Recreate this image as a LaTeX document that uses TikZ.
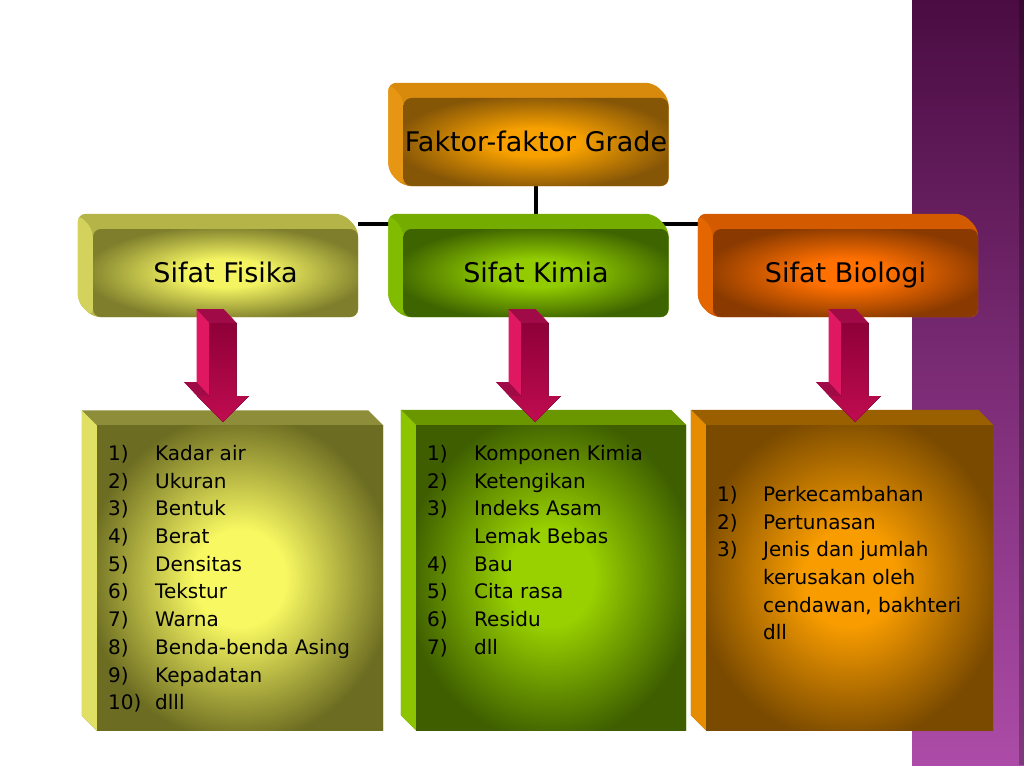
\documentclass[tikz,border=0pt]{standalone}
\usepackage{fontspec}
\setmainfont{DejaVu Sans}
\usetikzlibrary{backgrounds}

\definecolor{stripTop}{HTML}{4A0C42}
\definecolor{stripMid}{HTML}{702668}
\definecolor{stripBottom}{HTML}{AC4CA8}
\definecolor{topIn}{HTML}{F7A000}
\definecolor{topOut}{HTML}{865607}
\definecolor{topBevTop}{HTML}{D88A0C}
\definecolor{topBevLeft}{HTML}{E69612}
\definecolor{fisIn}{HTML}{F4F462}
\definecolor{fisOut}{HTML}{7E7E2C}
\definecolor{fisBevTop}{HTML}{B4B448}
\definecolor{fisBevLeft}{HTML}{D2D25C}
\definecolor{kimIn}{HTML}{92CC00}
\definecolor{kimOut}{HTML}{3E6400}
\definecolor{kimBevTop}{HTML}{74AC00}
\definecolor{kimBevLeft}{HTML}{82BC00}
\definecolor{bioIn}{HTML}{FF7000}
\definecolor{bioOut}{HTML}{8A3A00}
\definecolor{bioBevTop}{HTML}{D45A00}
\definecolor{bioBevLeft}{HTML}{E46600}
\definecolor{fisListIn}{HTML}{F8F862}
\definecolor{fisListOut}{HTML}{6C6C22}
\definecolor{fisListBevTop}{HTML}{8E8E3A}
\definecolor{fisListBevLeft}{HTML}{E0E064}
\definecolor{kimListIn}{HTML}{98D000}
\definecolor{kimListOut}{HTML}{3E5E00}
\definecolor{kimListBevTop}{HTML}{6A9600}
\definecolor{kimListBevLeft}{HTML}{8CC400}
\definecolor{bioListIn}{HTML}{F89C00}
\definecolor{bioListOut}{HTML}{7A4A00}
\definecolor{bioListBevTop}{HTML}{9A6000}
\definecolor{bioListBevLeft}{HTML}{E68C00}
\definecolor{arrowSide}{HTML}{E01862}
\definecolor{arrowTop}{HTML}{A00A46}
\definecolor{arrowDark}{HTML}{8E0038}
\definecolor{arrowLight}{HTML}{FF1C72}
\definecolor{arrowLow}{HTML}{C00C50}

\colorlet{glowin}{white}
\colorlet{glowout}{black}
\pgfdeclareradialshading[glowin,glowout]{glow}{\pgfpoint{0bp}{0bp}}%
  {color(0bp)=(glowin); color(8bp)=(glowin); color(27bp)=(glowout); color(50bp)=(glowout)}

% bevel behind a front face: [options]{node}{top colour}{left colour}
\newcommand\bevelbox[4][]{%
  \fill[#3,#1] ([shift={(-15,-15)}]#2.north west) -- ([shift={(-15,-15)}]#2.north east)
    -- (#2.north east) -- (#2.south east) -- (#2.south west)
    -- ([shift={(-15,-15)}]#2.south west) -- cycle;
  \fill[#4,#1] ([shift={(-15,-15)}]#2.north west) -- (#2.north west)
    -- (#2.south west) -- ([shift={(-15,-15)}]#2.south west) -- cycle;}

\tikzset{
  glowface/.style 2 args={/utils/exec={\colorlet{glowin}{#1}\colorlet{glowout}{#2}},
    shade, shading=glow},
  pinkarrow/.pic={
    \fill[arrowSide] (-26.5,-113) -- (0.5,-113) -- (13.5,-99) -- (13.5,-26) -- (26,-26)
      -- (0,0) -- (-39,-40) -- (-26.5,-40) -- cycle;
    \fill[arrowTop] (-26.5,-113) -- (0.5,-113) -- (13.5,-99) -- (-13.5,-99) -- cycle;
    \fill[arrowTop] (-39,-40) -- (-26.5,-40) -- (-13.5,-26) -- (-26,-26) -- cycle;
    \fill[top color=arrowDark, middle color=arrowLight, bottom color=arrowLow]
      (0,0) -- (26,-26) -- (13.5,-26) -- (13.5,-99) -- (-13.5,-99) -- (-13.5,-26)
      -- (-26,-26) -- cycle;
  }
}

\begin{document}
\begin{tikzpicture}[x=1pt,y=-1pt,
  midface/.style={rectangle, rounded corners=8pt, minimum width=265pt,
    minimum height=88pt, inner sep=0pt, text height=19.7pt, text depth=0pt,
    font=\fontsize{27}{32}\selectfont},
  listface/.style={rectangle, minimum height=305pt, inner sep=0pt},
  listtext/.style={anchor=north west, inner sep=0pt, align=left,
    font=\fontsize{20}{27.7}\selectfont},
  connector/.style={line width=4.5pt}]
  \useasboundingbox (0,0) rectangle (1024,765);

  % front faces
  \node[midface, glowface={topIn}{topOut}] (top) at (536,142)
    {Faktor-faktor Grade};
  \node[midface, glowface={fisIn}{fisOut}] (fis) at (225.5,273)
    {Sifat Fisika};
  \node[midface, glowface={kimIn}{kimOut}] (kim) at (536,273)
    {Sifat Kimia};
  \node[midface, glowface={bioIn}{bioOut}] (bio) at (845.5,273)
    {Sifat Biologi};
  \node[listface, minimum width=286pt, glowface={fisListIn}{fisListOut}]
    (fisList) at (240,578) {};
  \node[listface, minimum width=270pt, glowface={kimListIn}{kimListOut}]
    (kimList) at (551,577.5) {};
  \node[listface, minimum width=287pt, glowface={bioListIn}{bioListOut}]
    (bioList) at (849.5,577.5) {};

  \begin{scope}[on background layer]
    \fill[top color=stripTop, middle color=stripMid, bottom color=stripBottom]
      (912,0) rectangle (1024,765);
    \fill[black, opacity=0.25] (1019,0) rectangle (1024,765);
    % tree lines
    \draw[connector] (top.south) -- (kim.north);
    \draw[connector] ([yshift=5pt]fis.north east) -- ([yshift=5pt]bio.north west);
    % bevels
    \bevelbox[rounded corners=8pt]{top}{topBevTop}{topBevLeft}
    \bevelbox[rounded corners=8pt]{fis}{fisBevTop}{fisBevLeft}
    \bevelbox[rounded corners=8pt]{kim}{kimBevTop}{kimBevLeft}
    \bevelbox[rounded corners=8pt]{bio}{bioBevTop}{bioBevLeft}
    \bevelbox{fisList}{fisListBevTop}{fisListBevLeft}
    \bevelbox{kimList}{kimListBevTop}{kimListBevLeft}
    \bevelbox{bioList}{bioListBevTop}{bioListBevLeft}
  \end{scope}

  % arrows
  \coordinate (fisTip) at (223,422);
  \coordinate (kimTip) at (535,422);
  \coordinate (bioTip) at (855,422);
  \pic at (fisTip) {pinkarrow};
  \pic at (kimTip) {pinkarrow};
  \pic at (bioTip) {pinkarrow};

  % lists
  \node[listtext] (fisText) at (108,445)
    {\makebox[47pt][l]{1)}Kadar air\\
     \makebox[47pt][l]{2)}Ukuran\\
     \makebox[47pt][l]{3)}Bentuk\\
     \makebox[47pt][l]{4)}Berat\\
     \makebox[47pt][l]{5)}Densitas\\
     \makebox[47pt][l]{6)}Tekstur\\
     \makebox[47pt][l]{7)}Warna\\
     \makebox[47pt][l]{8)}Benda-benda Asing\\
     \makebox[47pt][l]{9)}Kepadatan\\
     \makebox[47pt][l]{10)}dlll};
  \node[listtext] (kimText) at (427,445)
    {\makebox[47pt][l]{1)}Komponen Kimia\\
     \makebox[47pt][l]{2)}Ketengikan\\
     \makebox[47pt][l]{3)}Indeks Asam\\
     \hspace*{47pt}Lemak Bebas\\
     \makebox[47pt][l]{4)}Bau\\
     \makebox[47pt][l]{5)}Cita rasa\\
     \makebox[47pt][l]{6)}Residu\\
     \makebox[47pt][l]{7)}dll};
  \node[listtext] (bioText) at (717,486)
    {\makebox[46pt][l]{1)}Perkecambahan\\
     \makebox[46pt][l]{2)}Pertunasan\\
     \makebox[46pt][l]{3)}Jenis dan jumlah\\
     \hspace*{46pt}kerusakan oleh\\
     \hspace*{46pt}cendawan, bakhteri\\
     \hspace*{46pt}dll};
\end{tikzpicture}
\end{document}
